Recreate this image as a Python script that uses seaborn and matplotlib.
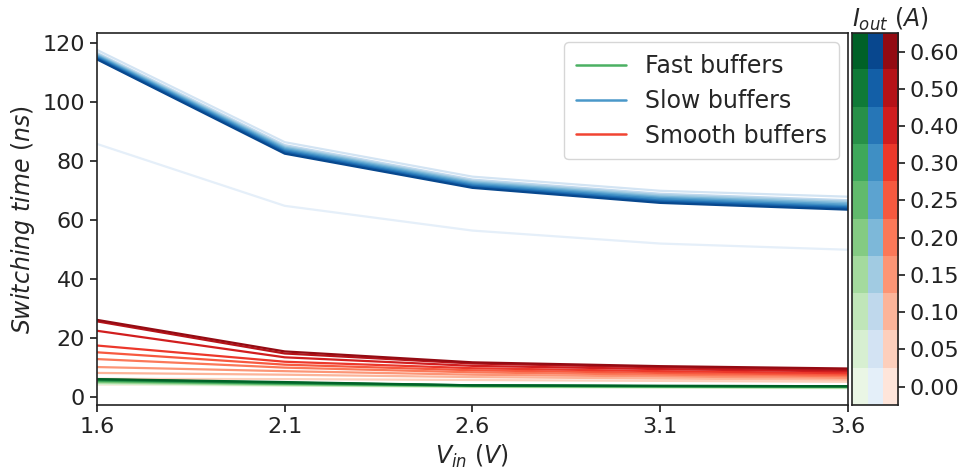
import numpy as np
import pandas as pd
import matplotlib
matplotlib.use("Agg")
import matplotlib.pyplot as plt
from matplotlib.lines import Line2D
import seaborn as sns

# ---------------- data ----------------
vin = [1.6, 2.1, 2.6, 3.1, 3.6]
currents = [0.00, 0.05, 0.10, 0.15, 0.20, 0.25, 0.30, 0.40, 0.50, 0.60]
current_labels = ["0.00", "0.05", "0.10", "0.15", "0.20", "0.25", "0.30", "0.40", "0.50", "0.60"]

# switching time (ns), one row per current level (same order as `currents`)
fast_times = [
    [4.2, 3.7, 3.2, 3.0, 2.8],
    [4.4, 3.8, 3.3, 3.1, 2.9],
    [4.6, 3.9, 3.4, 3.2, 3.0],
    [4.8, 4.0, 3.5, 3.3, 3.1],
    [5.0, 4.2, 3.5, 3.3, 3.2],
    [5.2, 4.3, 3.6, 3.4, 3.3],
    [5.4, 4.4, 3.7, 3.5, 3.4],
    [5.6, 4.6, 3.7, 3.5, 3.4],
    [5.8, 4.7, 3.8, 3.6, 3.5],
    [5.9, 4.9, 3.8, 3.6, 3.5],
]
slow_times = [
    [85.7, 64.7, 56.3, 51.9, 49.8],
    [117.6, 86.3, 74.6, 69.8, 67.8],
    [116.6, 85.3, 73.6, 68.8, 66.6],
    [116.2, 84.8, 73.1, 68.3, 66.1],
    [115.9, 84.4, 72.7, 67.8, 65.6],
    [115.6, 84.0, 72.3, 67.4, 65.1],
    [115.3, 83.6, 71.9, 67.0, 64.6],
    [115.0, 83.2, 71.5, 66.5, 64.2],
    [114.7, 82.8, 71.1, 66.1, 63.8],
    [114.4, 82.4, 70.8, 65.7, 63.4],
]
smooth_times = [
    [4.0, 3.8, 3.6, 3.4, 3.2],
    [6.0, 5.9, 5.6, 5.3, 5.0],
    [8.0, 7.4, 6.6, 6.1, 5.7],
    [10.0, 8.6, 7.4, 6.8, 6.3],
    [12.7, 9.8, 8.2, 7.4, 6.9],
    [15.0, 10.8, 8.9, 8.0, 7.4],
    [17.3, 11.8, 9.6, 8.6, 7.9],
    [22.3, 13.3, 10.4, 9.3, 8.5],
    [25.5, 14.6, 11.2, 9.9, 9.0],
    [26.0, 15.3, 11.6, 10.3, 9.5],
]

buffer_types = ["Fast buffers", "Slow buffers", "Smooth buffers"]
cmaps = ["Greens", "Blues", "Reds"]


def to_long(times):
    rows = []
    for ci, cur in enumerate(currents):
        for vi, v in enumerate(vin):
            rows.append({"Vin": v, "t": times[ci][vi], "I": cur})
    return pd.DataFrame(rows)


# ---------------- style ----------------
sns.set_theme(style="ticks")
plt.rcParams["font.family"] = ["DejaVu Sans"]
plt.rcParams["mathtext.fontset"] = "dejavusans"
plt.rcParams["axes.edgecolor"] = "#222222"
plt.rcParams["xtick.color"] = "#222222"
plt.rcParams["ytick.color"] = "#222222"

fig = plt.figure(figsize=(9.67, 4.75), dpi=100)
ax = fig.add_axes([0.1003, 0.147, 0.7766, 0.7835])
cax = fig.add_axes([0.881, 0.147, 0.0476, 0.7835])

palettes = [sns.color_palette(c, len(currents)) for c in cmaps]
data_sets = [fast_times, slow_times, smooth_times]

draw_order = [2, 1, 0]
for k in draw_order:
    df = to_long(data_sets[k])
    sns.lineplot(data=df, x="Vin", y="t", hue="I", palette=palettes[k],
                 hue_order=currents, legend=False, ax=ax, lw=1.6, sort=False)

ax.set_xlim(vin[0], vin[-1])
ax.set_xticks(vin)
ax.set_xticklabels([f"{v:.1f}" for v in vin])
ax.set_yticks([0, 20, 40, 60, 80, 100, 120])
ax.tick_params(labelsize=16, length=5)
ax.set_xlabel("$V_{in}\\ (V)$", fontsize=17, labelpad=4)
ax.set_ylabel("$Switching\\ time\\ (ns)$", fontsize=17)
for s in ax.spines.values():
    s.set_visible(True)
    s.set_linewidth(1.2)

legend_colors = [matplotlib.colormaps[c](0.6) for c in cmaps]
handles = [Line2D([0], [0], color=col, lw=1.8) for col in legend_colors]
leg = ax.legend(handles, buffer_types, loc="upper right", fontsize=17,
                frameon=True, fancybox=True, edgecolor="#cccccc",
                borderpad=0.5, labelspacing=0.45, handlelength=2.1,
                handletextpad=0.8, borderaxespad=0.4)

# ---------------- discrete colorbar ----------------
rgb = np.array([[palettes[k][ci] for k in range(3)] for ci in range(len(currents))])
cax.imshow(rgb, aspect="auto", origin="lower", extent=[0, 3, 0, len(currents)],
           interpolation="nearest")
cax.set_xticks([])
cax.yaxis.tick_right()
cax.set_yticks(np.arange(len(currents)) + 0.5)
cax.set_yticklabels(current_labels)
cax.tick_params(axis="y", labelsize=16, length=5)
for s in cax.spines.values():
    s.set_visible(True)
    s.set_linewidth(1.2)
cax.set_title("$I_{out}\\ (A)$", fontsize=17, pad=3, loc="left")

fig.savefig("out.png", dpi=100)
